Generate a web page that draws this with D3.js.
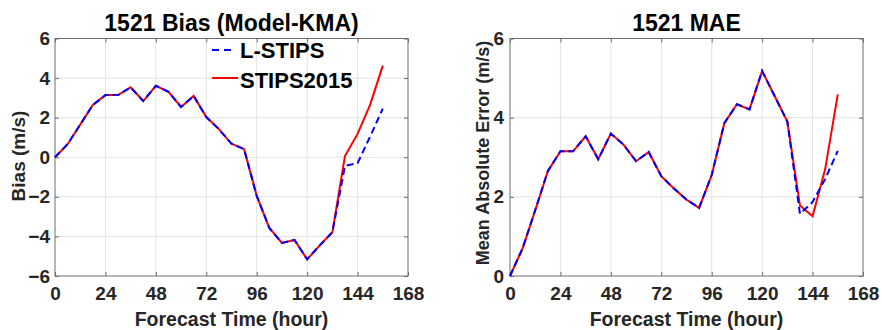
<!DOCTYPE html>
<html>
<head>
<meta charset="utf-8">
<script src="https://cdn.jsdelivr.net/npm/d3@7"></script>
<style>
  body { margin: 0; background: #fff; }
  svg text { font-family: "Liberation Sans", Arial, sans-serif; font-weight: bold; }
</style>
</head>
<body>
<svg id="chart" width="882" height="330"></svg>
<script>
// Forecast hours
const hours = [0, 6, 12, 18, 24, 30, 36, 42, 48, 54, 60, 66, 72, 78, 84, 90, 96, 102, 108, 114, 120, 126, 132, 138, 144, 150, 156];

// Bias (Model-KMA), m/s
const biasLSTIPS = [0, 0.66, 1.65, 2.64, 3.14, 3.14, 3.53, 2.84, 3.61, 3.31, 2.54, 3.10, 2.03, 1.42, 0.68, 0.41, -1.95, -3.57, -4.33, -4.18, -5.16, -4.45, -3.79, -0.44, -0.30, 1.05, 2.46];
const biasSTIPS2015 = [0, 0.66, 1.65, 2.64, 3.14, 3.14, 3.53, 2.84, 3.61, 3.31, 2.54, 3.10, 2.03, 1.42, 0.68, 0.41, -1.95, -3.57, -4.33, -4.18, -5.16, -4.45, -3.79, 0.06, 1.18, 2.66, 4.63];

// Mean absolute error, m/s
const maeLSTIPS = [0, 0.70, 1.66, 2.65, 3.15, 3.15, 3.53, 2.95, 3.60, 3.32, 2.90, 3.13, 2.52, 2.21, 1.93, 1.72, 2.55, 3.86, 4.34, 4.21, 5.18, 4.54, 3.90, 1.57, 1.87, 2.45, 3.16];
const maeSTIPS2015 = [0, 0.70, 1.66, 2.65, 3.15, 3.15, 3.53, 2.95, 3.60, 3.32, 2.90, 3.13, 2.52, 2.21, 1.93, 1.72, 2.55, 3.86, 4.34, 4.21, 5.18, 4.54, 3.90, 1.78, 1.51, 2.70, 4.59];

const xTicks = [0, 24, 48, 72, 96, 120, 144, 168];
const biasTicks = [-6, -4, -2, 0, 2, 4, 6];
const maeTicks = [0, 2, 4, 6];

const seriesNames = ['L-STIPS', 'STIPS2015'];

const svg = d3.select('#chart');
const axisColor = '#6e6e6e';
const gridColor = '#e3e3e3';
const labelColor = '#262626';
const fmt = d3.format('d');

// Draw one panel
function drawPanel(opts) {
    const { left, right, top, bottom } = opts;
    const x = d3.scaleLinear().domain([0, 168]).range([left, right]);
    const y = d3.scaleLinear().domain(opts.yDomain).range([bottom, top]);
    const g = svg.append('g');

    // grid
    g.append('g').selectAll('line')
        .data(xTicks.slice(1, -1)).enter().append('line')
        .attr('x1', d => x(d)).attr('x2', d => x(d))
        .attr('y1', top).attr('y2', bottom)
        .attr('stroke', gridColor).attr('stroke-width', 1);
    g.append('g').selectAll('line')
        .data(opts.yTicks.slice(1, -1)).enter().append('line')
        .attr('x1', left).attr('x2', right)
        .attr('y1', d => y(d)).attr('y2', d => y(d))
        .attr('stroke', gridColor).attr('stroke-width', 1);

    // axes, ticks pointing inward on all four sides
    const styleAxis = sel => {
        sel.select('.domain').remove();
        sel.selectAll('.tick line').attr('stroke', axisColor);
        sel.selectAll('.tick text').attr('fill', labelColor).style('font-size', '19px');
    };
    g.append('g').attr('transform', `translate(0,${bottom})`)
        .call(d3.axisBottom(x).tickValues(xTicks).tickFormat(fmt).tickSize(-4).tickPadding(11))
        .call(styleAxis);
    g.append('g').attr('transform', `translate(${left},0)`)
        .call(d3.axisLeft(y).tickValues(opts.yTicks).tickFormat(fmt).tickSize(-4).tickPadding(opts.yPad))
        .call(styleAxis);
    g.append('g').attr('transform', `translate(0,${top})`)
        .call(d3.axisTop(x).tickValues(xTicks).tickSize(-4).tickFormat(''))
        .call(styleAxis);
    g.append('g').attr('transform', `translate(${right},0)`)
        .call(d3.axisRight(y).tickValues(opts.yTicks).tickSize(-4).tickFormat(''))
        .call(styleAxis);

    g.append('rect')
        .attr('x', left).attr('y', top)
        .attr('width', right - left).attr('height', bottom - top)
        .attr('fill', 'none').attr('stroke', axisColor).attr('stroke-width', 1);

    // lines: red solid below, blue dashed on top
    const line = d3.line().x((d, i) => x(hours[i])).y(d => y(d));
    g.append('path').datum(opts.solid)
        .attr('d', line).attr('fill', 'none')
        .attr('stroke', '#ff0000').attr('stroke-width', 2);
    g.append('path').datum(opts.dashed)
        .attr('d', line).attr('fill', 'none')
        .attr('stroke', '#0000ff').attr('stroke-width', 2)
        .attr('stroke-dasharray', '7,4');

    // titles
    const mid = (left + right) / 2;
    g.append('text').attr('x', mid).attr('y', 31)
        .attr('text-anchor', 'middle').style('font-size', '23px').attr('fill', '#000')
        .text(opts.title);
    g.append('text').attr('x', mid).attr('y', 326)
        .attr('text-anchor', 'middle').style('font-size', '19.5px').attr('fill', labelColor)
        .text('Forecast Time (hour)');
    g.append('text')
        .attr('transform', `translate(${opts.yLabelX},${opts.yLabelY}) rotate(-90)`)
        .attr('text-anchor', 'middle').style('font-size', opts.yLabelSize).attr('fill', labelColor)
        .text(opts.yLabel);
    return g;
}

const g1 = drawPanel({
    left: 55, right: 408, top: 38.5, bottom: 276,
    yDomain: [-6, 6], yTicks: biasTicks, yPad: 5,
    solid: biasSTIPS2015, dashed: biasLSTIPS,
    title: '1521 Bias (Model-KMA)', yLabel: 'Bias (m/s)',
    yLabelX: 25, yLabelY: 156, yLabelSize: '19px'
});

drawPanel({
    left: 510, right: 863, top: 38.5, bottom: 276,
    yDomain: [0, 6], yTicks: maeTicks, yPad: 6,
    solid: maeSTIPS2015, dashed: maeLSTIPS,
    title: '1521 MAE', yLabel: 'Mean Absolute Error (m/s)',
    yLabelX: 489, yLabelY: 153, yLabelSize: '18px'
});

// legend (left panel, no box)
const legend = g1.append('g');
const legendRows = [
    { name: seriesNames[0], color: '#0000ff', dash: '7,5', x2: 232, y: 50, base: 58 },
    { name: seriesNames[1], color: '#ff0000', dash: null, x2: 238, y: 78, base: 87.5 }
];
legendRows.forEach(r => {
    legend.append('line')
        .attr('x1', 212).attr('x2', r.x2).attr('y1', r.y).attr('y2', r.y)
        .attr('stroke', r.color).attr('stroke-width', 2)
        .attr('stroke-dasharray', r.dash);
    legend.append('text').attr('x', 240).attr('y', r.base)
        .style('font-size', '22px').attr('fill', '#000')
        .text(r.name);
});
</script>
</body>
</html>
